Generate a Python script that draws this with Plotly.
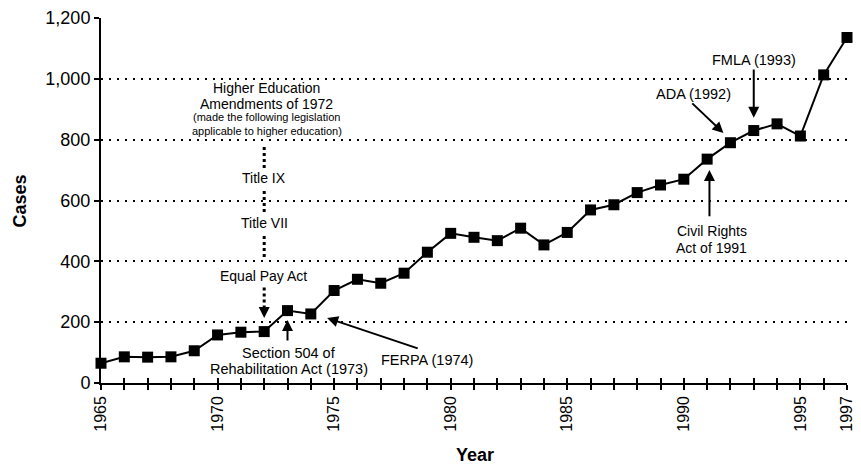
import plotly.graph_objects as go

years = list(range(1965, 1998))
cases = [65, 86, 85, 86, 106, 158, 167, 169, 238, 227, 304, 341, 328, 361, 430,
         492, 479, 468, 509, 454, 495, 569, 586, 626, 651, 670, 736, 790, 830, 852,
         812, 1013, 1136]

x_tick_vals = [1965, 1970, 1975, 1980, 1985, 1990, 1995, 1997]
x_tick_text = [str(v) for v in x_tick_vals]
y_tick_vals = [0, 200, 400, 600, 800, 1000, 1200]

FONT = "Liberation Sans, Arial, Helvetica, sans-serif"
BLACK = "#000000"

fig = go.Figure()
fig.add_trace(go.Scatter(
    x=years, y=cases, mode="lines+markers",
    line=dict(color=BLACK, width=2),
    marker=dict(symbol="square", size=11, color=BLACK),
    cliponaxis=False, showlegend=False, hoverinfo="x+y",
))
# invisible helper trace for the overlaid axis (inside ticks)
fig.add_trace(go.Scatter(x=[1965, 1997], y=[0, 0], xaxis="x2", mode="markers",
                         marker=dict(opacity=0), showlegend=False, hoverinfo="skip"))

# Text annotations (plain text)
texts = [
    ("Higher Education", 1972.1, 971, 14),
    ("Amendments of 1972", 1972.1, 918, 14),
    ("(made the following legislation", 1972.1, 875, 11),
    ("applicable to higher education)", 1972.1, 828, 11),
    ("Title IX", 1972.0, 674, 14),
    ("Title VII", 1972.0, 526, 14),
    ("Equal Pay Act", 1971.95, 352, 14),
    ("Section 504 of", 1973.07, 99, 14.5),
    ("Rehabilitation Act (1973)", 1973.07, 47, 14.5),
    ("FERPA (1974)", 1979.0, 76, 14.5),
    ("Civil Rights", 1991.2, 500, 14),
    ("Act of 1991", 1991.2, 444, 14),
    ("ADA (1992)", 1990.4, 951, 14.5),
    ("FMLA (1993)", 1993.0, 1062, 14.5),
]
annotations = []
for t, x, y, s in texts:
    annotations.append(dict(x=x, y=y, xref="x", yref="y", text=t, showarrow=False,
                            font=dict(family=FONT, size=s, color=BLACK),
                            xanchor="center", yanchor="middle"))

# Axis titles
annotations.append(dict(x=-0.1086, y=0.5, xref="paper", yref="paper", text="<b>Cases</b>",
                        textangle=-90, showarrow=False, xanchor="center", yanchor="middle",
                        font=dict(family=FONT, size=18, color=BLACK)))
annotations.append(dict(x=0.501, y=-0.197, xref="paper", yref="paper", text="<b>Year</b>",
                        showarrow=False, xanchor="center", yanchor="middle",
                        font=dict(family=FONT, size=18, color=BLACK)))

# Arrows: (tip x, tip y, tail x, tail y)
arrows = [
    (1973.0, 207, 1973.0, 135),
    (1974.7, 214, 1978.65, 112),
    (1991.1, 700, 1991.1, 543),
    (1991.7, 822, 1990.3, 924),
    (1993.0, 872, 1993.0, 1036),
]
for xt, yt, xa, ya in arrows:
    annotations.append(dict(x=xt, y=yt, ax=xa, ay=ya, xref="x", yref="y",
                            axref="x", ayref="y", text="", showarrow=True,
                            arrowhead=2, arrowsize=1.1, arrowwidth=2,
                            arrowcolor=BLACK))
# dotted arrow head (Equal Pay Act)
annotations.append(dict(x=1972.0, y=214, ax=1972.0, ay=250, xref="x", yref="y",
                        axref="x", ayref="y", text="", showarrow=True,
                        arrowhead=2, arrowsize=1.1, arrowwidth=2, arrowcolor=BLACK))

# dotted vertical connector segments
shapes = []
for y0, y1 in [(707, 783), (562, 641), (414, 493), (245, 316)]:
    shapes.append(dict(type="line", xref="x", yref="y", x0=1972.0, x1=1972.0,
                       y0=y0, y1=y1, line=dict(color=BLACK, width=3, dash="3px,3px")))

# page body has an 8px default margin, so the figure is sized to fit the window
fig.update_layout(
    width=853, height=457,
    margin=dict(l=93, r=14, t=10, b=82),
    paper_bgcolor="white", plot_bgcolor="white",
    font=dict(family=FONT, color=BLACK),
    annotations=annotations, shapes=shapes,
    xaxis=dict(
        range=[1965, 1997], tickvals=x_tick_vals, ticktext=x_tick_text,
        tickangle=-90, tickfont=dict(size=16, family=FONT, color=BLACK),
        showline=True, linecolor=BLACK, linewidth=1.5,
        ticks="outside", ticklen=5, tickwidth=1.5, tickcolor=BLACK,
        minor=dict(dtick=1, tick0=1965, ticks="outside", ticklen=5, tickwidth=1.5,
                   tickcolor=BLACK, showgrid=False),
        showgrid=False, zeroline=False, automargin=False,
    ),
    xaxis2=dict(
        range=[1965, 1997], overlaying="x", side="bottom", anchor="y",
        dtick=1, tick0=1965, ticks="inside", ticklen=5, tickwidth=1.5,
        tickcolor=BLACK, showticklabels=False, showgrid=False, zeroline=False,
        showline=False, automargin=False,
    ),
    yaxis=dict(
        range=[0, 1200], tickvals=y_tick_vals, tickformat=",",
        tickfont=dict(size=18, family=FONT, color=BLACK),
        showline=True, linecolor=BLACK, linewidth=2,
        ticks="outside", ticklen=5, tickwidth=1.5, tickcolor=BLACK,
        showgrid=True, gridcolor=BLACK, gridwidth=2, griddash="2px,6px",
        zeroline=False, automargin=False,
    ),
)

fig.write_html("out.html")
